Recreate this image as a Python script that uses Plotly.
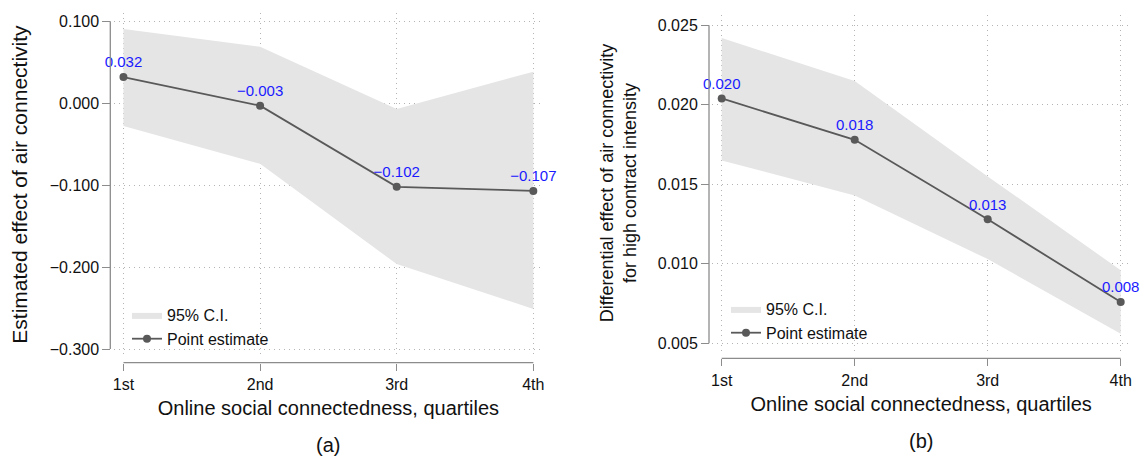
import plotly.graph_objects as go

# ---------------- data ----------------
quartiles = ["1st", "2nd", "3rd", "4th"]

a_est = [0.032, -0.003, -0.102, -0.107]
a_hi = [0.0906, 0.069, -0.007, 0.0385]
a_lo = [-0.0277, -0.074, -0.1963, -0.251]
a_yticks = [0.100, 0.000, -0.100, -0.200, -0.300]

b_est = [0.0204, 0.0178, 0.0128, 0.0076]
b_hi = [0.0242, 0.0215, 0.0155, 0.0096]
b_lo = [0.0165, 0.0143, 0.0103, 0.0056]
b_yticks = [0.025, 0.020, 0.015, 0.010, 0.005]

x_title = "Online social connectedness, quartiles"
a_ytitle = "Estimated effect of air connectivity"
b_ytitle = "Differential effect of air connectivity<br>for high contract intensity"
panel_labels = ["(a)", "(b)"]

# ---------------- style ----------------
W, H = 1140, 457
FONT = "Liberation Sans, Arial, Helvetica, sans-serif"
BAND = "#e5e5e5"
LINE = "#595959"
AXC = "#8c8c8c"
GRID = "#b4b4b4"
LABEL = "#1a1aff"

xpos = list(range(1, len(quartiles) + 1))


def fmt(v):
    return f"{v:.3f}".replace("-", "\u2212")


def fx(p):
    return p / W


def fy(p):
    return 1 - p / H


fig = go.Figure()


def add_panel(est, hi, lo, xa, ya, legend):
    fig.add_trace(go.Scatter(
        x=xpos + xpos[::-1], y=hi + lo[::-1], fill="toself", fillcolor=BAND,
        mode="lines", line=dict(width=0, color=BAND), name="95% C.I.",
        xaxis=xa, yaxis=ya, legend=legend, legendgroup=legend + "ci",
        hoverinfo="skip"))
    fig.add_trace(go.Scatter(
        x=xpos, y=est, mode="lines+markers", name="Point estimate",
        line=dict(color=LINE, width=1.8), marker=dict(color=LINE, size=8),
        xaxis=xa, yaxis=ya, legend=legend, legendgroup=legend + "pe"))
    fig.add_trace(go.Scatter(
        x=xpos, y=est, mode="markers+text", text=[fmt(v) for v in est],
        textposition="top center", textfont=dict(color=LABEL, size=15, family=FONT),
        marker=dict(size=8, color="rgba(0,0,0,0)"), showlegend=False,
        cliponaxis=False, xaxis=xa, yaxis=ya, hoverinfo="skip"))


add_panel(a_est, a_hi, a_lo, "x", "y", "legend")
add_panel(b_est, b_hi, b_lo, "x2", "y2", "legend2")

common_x = dict(
    range=[0.93, 4.07], tickmode="array", tickvals=xpos, ticktext=quartiles,
    ticks="outside", ticklen=7, tickcolor=AXC, tickwidth=1.3, showline=False,
    showgrid=True, gridcolor=GRID, griddash="1px,4px", gridwidth=1,
    zeroline=False, tickfont=dict(size=16, color="#111"), anchor="free",
    automargin=False,
)
common_y = dict(
    tickmode="array", ticks="outside", ticklen=8,
    tickcolor=AXC, tickwidth=1.3, showline=False, showgrid=True,
    gridcolor=GRID, griddash="1px,4px", gridwidth=1, zeroline=False,
    tickfont=dict(size=16, color="#111"), anchor="free", automargin=False,
)

fig.update_layout(
    width=W, height=H, margin=dict(l=0, r=0, t=0, b=0),
    paper_bgcolor="white", plot_bgcolor="white",
    font=dict(family=FONT, color="#111"),
    showlegend=True,
    xaxis=dict(common_x, domain=[fx(113.9), fx(542.9)], position=fy(362.7),
               title=dict(text=x_title, font=dict(size=20, color="#111"), standoff=9)),
    yaxis=dict(common_y, domain=[fy(356), fy(13.1)], range=[-0.3085, 0.110],
               tickvals=a_yticks, ticktext=[fmt(v) for v in a_yticks],
               position=fx(110.3),
               title=dict(text=a_ytitle, font=dict(size=21, color="#111"), standoff=15)),
    xaxis2=dict(common_x, domain=[fx(712.4), fx(1130)], position=fy(358.3),
                title=dict(text=x_title, font=dict(size=20, color="#111"), standoff=9)),
    yaxis2=dict(common_y, domain=[fy(351), fy(15)], range=[0.00452, 0.02565],
                tickvals=b_yticks, ticktext=[fmt(v) for v in b_yticks],
                position=fx(709),
                title=dict(text=b_ytitle, font=dict(size=18, color="#111"), standoff=15)),
    legend=dict(x=fx(127), y=fy(298), xanchor="left", yanchor="top",
                bgcolor="rgba(0,0,0,0)", font=dict(size=16, color="#111"),
                tracegroupgap=12, traceorder="normal"),
    legend2=dict(x=fx(726), y=fy(292), xanchor="left", yanchor="top",
                 bgcolor="rgba(0,0,0,0)", font=dict(size=16, color="#111"),
                 tracegroupgap=10, traceorder="normal"),
)

# Stata-style axis lines spanning the tick range only
for xa, ya, yt, xp, yp in [("x", "y", a_yticks, fx(110.3), fy(362.7)),
                           ("x2", "y2", b_yticks, fx(709), fy(358.3))]:
    fig.add_shape(type="line", xref=xa, yref="paper", x0=xpos[0], x1=xpos[-1],
                  y0=yp, y1=yp, line=dict(color=AXC, width=1.3))
    fig.add_shape(type="line", xref="paper", yref=ya, x0=xp, x1=xp,
                  y0=min(yt), y1=max(yt), line=dict(color=AXC, width=1.3))

for lab, cx, cy in [(panel_labels[0], 328.4, 445), (panel_labels[1], 921.2, 441)]:
    fig.add_annotation(text=lab, x=fx(cx), y=fy(cy), xref="paper", yref="paper",
                       showarrow=False, font=dict(size=20, color="#111"),
                       xanchor="center", yanchor="middle")

fig.write_html("out.html", config={"displayModeBar": False},
               post_script="document.body.style.margin='0';document.body.style.overflow='hidden';")
